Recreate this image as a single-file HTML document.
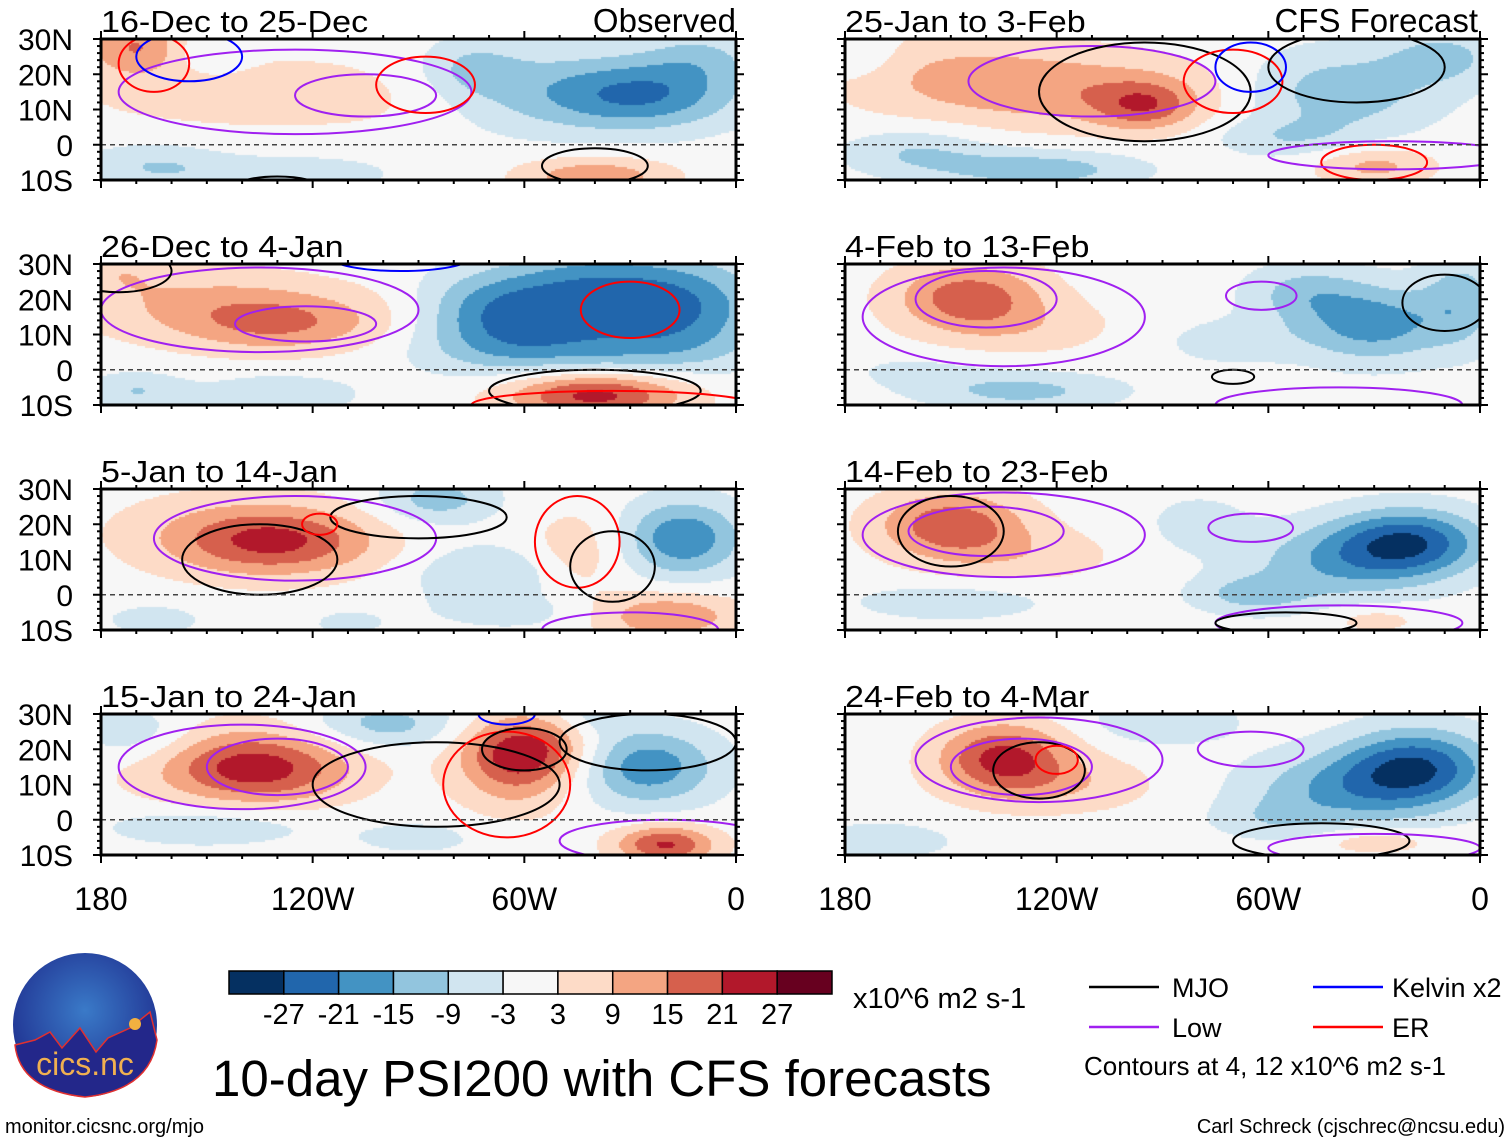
<!DOCTYPE html>
<html><head><meta charset="utf-8"><style>
html,body{margin:0;padding:0;background:#fff;}
#wrap{position:relative;width:1510px;height:1142px;overflow:hidden;font-family:"Liberation Sans",sans-serif;}
canvas,svg{position:absolute;left:0;top:0;}
</style></head><body>
<div id="wrap">
<canvas id="cv" width="1510" height="1142"></canvas>
<svg id="sv" width="1510" height="1142" xmlns="http://www.w3.org/2000/svg"></svg>
</div>
<script>
// ---- data ----
const panelTitles = ["16-Dec to 25-Dec","26-Dec to 4-Jan","5-Jan to 14-Jan","15-Jan to 24-Jan","25-Jan to 3-Feb","4-Feb to 13-Feb","14-Feb to 23-Feb","24-Feb to 4-Mar"];
const levels = [-27,-21,-15,-9,-3,3,9,15,21,27];
const levelColors = ["#053061","#2166ac","#4393c3","#92c5de","#d1e5f0","#f7f7f7","#fddbc7","#f4a582","#d6604d","#b2182b","#67001f"];
const yTickLabels = ["30N","20N","10N","0","10S"];
const yTickLats = [30,20,10,0,-10];
const xTickLabels = ["180","120W","60W","0"];
const xTickLons = [180,120,60,0];
// blobs: [lonW, lat, amplitude, lonScale, latScale]
const blobs0 = [[170,28,14,10,6],[140,15,5,40,10],[90,14,5,20,8],[55,15,-12,30,9],[25,14,-15,18,7],[75,22,-8,10,6],[165,-6,-9,15,5],[125,-8,-7,20,4],[40,-9,14,15,4],[10,25,-8,12,6],[150,26,-6,8,4]];
const blobs1 = [[150,18,10,25,8],[128,13,12,18,6],[65,16,-22,18,9],[18,18,-22,18,10],[42,25,-10,15,8],[45,5,-10,30,6],[40,-7,24,18,5],[170,-6,-9,10,4],[130,-7,-9,15,4],[175,28,6,10,5],[95,15,4,15,8]];
const blobs2 = [[130,15,19,20,7],[145,18,6,25,9],[85,27,-12,12,5],[70,6,-9,15,6],[45,12,7,10,9],[15,16,-20,12,8],[20,-6,15,15,5],[60,-5,-5,20,4],[165,-7,-5,12,4],[110,-8,-5,8,3]];
const blobs3 = [[135,14,19,18,7],[145,18,7,25,9],[60,20,24,12,7],[63,10,8,12,8],[100,27,-12,15,5],[170,24,-9,12,6],[25,15,-19,14,8],[20,-7,22,10,4],[150,-2,-8,20,4],[90,-5,-5,15,4],[40,30,-6,8,4]];
const blobs4 = [[110,15,11,30,8],[95,11,14,10,5],[150,20,8,25,9],[160,-2,-9,15,5],[125,-7,-13,20,4],[40,15,-13,20,9],[10,25,-10,12,6],[30,-6,11,12,4],[55,2,-7,15,4],[175,25,-5,8,5]];
const blobs5 = [[145,21,18,15,7],[130,12,6,20,6],[30,13,-18,15,8],[50,22,-10,12,6],[130,-6,-11,20,4],[70,8,-6,15,5],[5,20,-11,8,10],[160,0,-4,15,4]];
const blobs6 = [[150,20,19,15,7],[130,11,6,20,6],[20,15,-24,15,7],[40,9,-13,20,8],[150,-2,-7,20,4],[65,0,-10,12,4],[80,20,-6,10,6],[30,-7,6,10,3]];
const blobs7 = [[135,18,22,13,7],[120,10,8,20,6],[18,15,-25,15,8],[40,8,-14,20,8],[170,-6,-7,15,4],[90,28,-8,15,5],[30,-6,8,12,3],[60,0,-5,12,4]];
const panelBlobs = [blobs0,blobs1,blobs2,blobs3,blobs4,blobs5,blobs6,blobs7];
// contours: [type, lonW, lat, lonRadius, latRadius]
const contours0 = [["low",125,15,50,12],["low",105,14,20,6],["er",88,17,14,8],["er",165,23,10,8],["kelvin",155,25,15,7],["mjo",130,-12,12,3],["mjo",40,-6,15,5]];
const contours1 = [["low",135,17,45,12],["low",122,13,20,5],["er",30,17,14,8],["kelvin",95,32,20,4],["mjo",40,-6,30,6],["er",35,-10,40,4],["mjo",175,28,15,6]];
const contours2 = [["low",125,16,40,12],["mjo",135,10,22,10],["mjo",90,22,25,6],["er",45,15,12,13],["mjo",35,8,12,10],["er",118,20,5,3],["low",30,-10,25,5]];
const contours3 = [["low",140,15,35,12],["low",130,15,20,8],["mjo",85,10,35,12],["er",65,10,18,15],["mjo",60,20,12,6],["kelvin",65,30,8,3],["mjo",25,22,25,8],["low",20,-6,30,6]];
const contours4 = [["low",110,18,35,10],["mjo",95,15,30,14],["er",70,18,14,9],["kelvin",65,22,10,7],["mjo",35,22,25,10],["er",30,-5,15,5],["low",25,-3,35,4]];
const contours5 = [["low",135,15,40,14],["low",140,20,20,8],["low",62,21,10,4],["mjo",10,19,12,8],["mjo",70,-2,6,2],["low",40,-10,35,5]];
const contours6 = [["low",135,17,40,12],["low",140,18,22,7],["low",65,19,12,4],["mjo",150,18,15,10],["low",40,-8,35,5],["mjo",55,-8,20,3]];
const contours7 = [["low",125,17,35,12],["low",130,15,20,8],["mjo",125,14,13,8],["er",120,17,6,4],["low",65,20,15,5],["mjo",45,-6,25,5],["low",30,-8,30,4]];
const panelContours = [contours0,contours1,contours2,contours3,contours4,contours5,contours6,contours7];
const contourColors = {mjo:"#000000",low:"#a020f0",kelvin:"#0000ff",er:"#ff0000"};

// ---- geometry ----
const colX = [101,845], panelW = 635;
const rowY = [39,264,489,714], panelH = 141;
const spreadLon = 1.4, spreadLat = 1.35;
function px(i,lonW){return colX[Math.floor(i/4)] + (180-lonW)/180*panelW;}
function py(i,lat){return rowY[i%4] + (30-lat)/40*panelH;}
function field(b,lon,lat){let v=0;for(const q of b){const dx=(lon-q[0])/(q[3]*spreadLon),dy=(lat-q[1])/(q[4]*spreadLat);v+=q[2]*Math.exp(-(dx*dx+dy*dy));}return v;}
function colorFor(v){let k=0;while(k<levels.length&&v>levels[k])k++;return levelColors[k];}

const ctx=document.getElementById('cv').getContext('2d');
ctx.fillStyle="#fff";ctx.fillRect(0,0,1510,1142);
const step=2;
for(let i=0;i<8;i++){
  const x0=colX[Math.floor(i/4)], y0=rowY[i%4];
  for(let yy=0;yy<panelH;yy+=step){for(let xx=0;xx<panelW;xx+=step){
    const lon=180-(xx+1)/panelW*180, lat=30-(yy+1)/panelH*40;
    ctx.fillStyle=colorFor(field(panelBlobs[i],lon,lat));
    ctx.fillRect(x0+xx,y0+yy,step,step);
  }}
}

const NS="http://www.w3.org/2000/svg", sv=document.getElementById('sv');
function el(tag,attrs,parent){const e=document.createElementNS(NS,tag);for(const k in attrs)e.setAttribute(k,attrs[k]);(parent||sv).appendChild(e);return e;}
function txt(s,attrs,parent){const e=el('text',attrs,parent);e.textContent=s;return e;}

for(let i=0;i<8;i++){
  const g=el('g',{});
  
  
  const x0=colX[Math.floor(i/4)], y0=rowY[i%4];
  const clipId='clip'+i;
  const cp=el('clipPath',{id:clipId},g); el('rect',{x:x0,y:y0,width:panelW,height:panelH},cp);
  const cg=el('g',{'clip-path':'url(#'+clipId+')'},g);
  for(const c of panelContours[i]){
    const e=el('ellipse',{cx:px(i,c[1]),cy:py(i,c[2]),rx:c[3]/180*panelW,ry:c[4]/40*panelH,fill:'none',stroke:contourColors[c[0]],'stroke-width':2},cg);
    
    
  }
  const eq=el('line',{x1:x0,x2:x0+panelW,y1:py(i,0),y2:py(i,0),stroke:'#444','stroke-width':1.5,'stroke-dasharray':'5,4'},g);
  
  
  const fr=el('rect',{x:x0,y:y0,width:panelW,height:panelH,fill:'none',stroke:'#000','stroke-width':3},g);
  
  
  for(let lon=180;lon>=0;lon-=10){
    const X=px(i,lon), L=(lon%60===0)?8:4;
    el('line',{x1:X,x2:X,y1:y0+panelH,y2:y0+panelH+L,stroke:'#000','stroke-width':2},g);
    el('line',{x1:X,x2:X,y1:y0,y2:y0-L,stroke:'#000','stroke-width':2},g);
  }
  for(let lat=-10;lat<=30;lat+=2){
    const Y=py(i,lat), L=(lat%10===0)?8:4;
    el('line',{x1:x0,x2:x0-L,y1:Y,y2:Y,stroke:'#000','stroke-width':2},g);
    el('line',{x1:x0+panelW,x2:x0+panelW+L,y1:Y,y2:Y,stroke:'#000','stroke-width':2},g);
  }
  const t=txt(panelTitles[i],{x:x0,y:y0-7,'font-size':31,fill:'#000'},g);
  
  
  t.setAttribute('transform','translate('+x0+','+(y0-7)+') scale(1.1,1) translate('+(-x0)+','+(-(y0-7))+')');
  if(i<4){
    for(let k=0;k<yTickLabels.length;k++){
      const yl=txt(yTickLabels[k],{x:73,y:py(i,yTickLats[k])+11,'font-size':30,'text-anchor':'end'},g);
      
      
    }
  }
}
const t1=txt("Observed",{x:736,y:32,'font-size':33,'text-anchor':'end'});


const t2=txt("CFS Forecast",{x:1478,y:32,'font-size':33,'text-anchor':'end'});


for(let c=0;c<2;c++){for(let k=0;k<xTickLabels.length;k++){
  const xl=txt(xTickLabels[k],{x:colX[c]+(180-xTickLons[k])/180*panelW,y:910,'font-size':32,'text-anchor':'middle'});
  
  
}}
// colorbar
const cbX=229, cbW=603, cbY=971, cbH=23, bw=cbW/levelColors.length;
for(let k=0;k<levelColors.length;k++){
  const r=el('rect',{x:cbX+k*bw,y:cbY,width:bw,height:cbH,fill:levelColors[k],stroke:'#000','stroke-width':1.5});
  
  
}
for(let k=0;k<levels.length;k++){
  const l=txt(String(levels[k]),{x:cbX+(k+1)*bw,y:1024,'font-size':29,'text-anchor':'middle'});
  
  
}
const u=txt("x10^6 m2 s-1",{x:853,y:1008,'font-size':29});


const mt=txt("10-day PSI200 with CFS forecasts",{x:212,y:1096,'font-size':51});


// legend
const leg=[["MJO","#000",1089,1172,987],["Kelvin x2","#0000ff",1313,1392,987],["Low","#a020f0",1089,1172,1027],["ER","#ff0000",1313,1392,1027]];
for(const L of leg){
  const ln=el('line',{x1:L[2],x2:L[2]+70,y1:L[4],y2:L[4],stroke:L[1],'stroke-width':2.5});
  
  
  const lt=txt(L[0],{x:L[3],y:L[4]+10,'font-size':27});
  
  
}
const cn=txt("Contours at 4, 12 x10^6 m2 s-1",{x:1084,y:1075,'font-size':26});


const cr=txt("Carl Schreck (cjschrec@ncsu.edu)",{x:1505,y:1133,'font-size':20,'text-anchor':'end'});


const mu=txt("monitor.cicsnc.org/mjo",{x:5,y:1133,'font-size':20});


// logo
const lg=el('g',{});


el('defs',{},lg).innerHTML='<radialGradient id="lgr" cx="50%" cy="40%" r="60%"><stop offset="0" stop-color="#3a7ac8"/><stop offset="1" stop-color="#1f2f8f"/></radialGradient>';
el('ellipse',{cx:85,cy:1025,rx:72,ry:72,fill:'url(#lgr)'},lg);
el('path',{d:'M15,1045 L35,1040 L50,1032 L62,1048 L80,1028 L96,1052 L108,1038 L130,1028 L150,1012 L157,1040 Q150,1090 85,1097 Q20,1090 15,1045Z',fill:'#23278a',stroke:'#e03030','stroke-width':1.5},lg);
el('circle',{cx:135,cy:1024,r:6,fill:'#f2b040'},lg);
txt("cics.nc",{x:85,y:1075,'font-size':32,'text-anchor':'middle',fill:'#f0b050'},lg);
</script>
</body></html>
